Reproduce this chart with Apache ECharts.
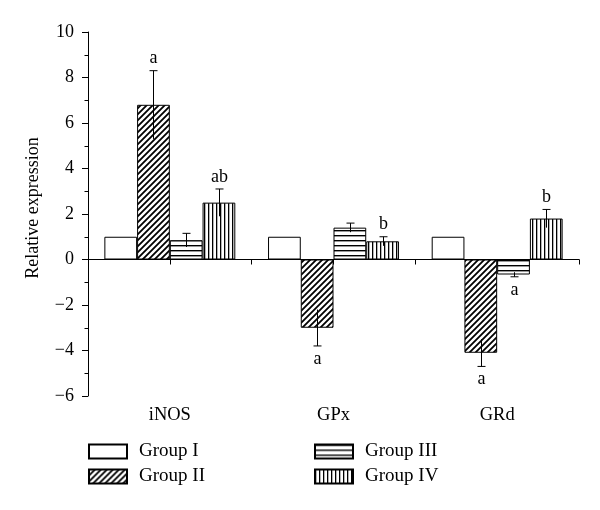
<!DOCTYPE html>
<html>
<head>
<meta charset="utf-8">
<script src="https://cdn.jsdelivr.net/npm/echarts@6/dist/echarts.min.js"></script>
<style>html,body{margin:0;padding:0;background:#fff}#c{width:600px;height:510px}</style>
</head>
<body>
<div id="c"></div>
<script>
const categories = ['iNOS', 'GPx', 'GRd'];
const groupNames = ['Group I', 'Group II', 'Group III', 'Group IV'];
const groupI = [1.0, 1.0, 1.0];
const groupII = [6.8, -3.0, -4.1];
const groupIII = [0.85, 1.4, -0.66];
const groupIV = [2.5, 0.8, 1.8];
const errI = [0, 0, 0];
const errII = [1.5, 0.8, 0.6];
const errIII = [0.3, 0.2, 0.1];
const errIV = [0.6, 0.2, 0.4];
const lettersI = ['', '', ''];
const lettersII = ['a', 'a', 'a'];
const lettersIII = ['', '', 'a'];
const lettersIV = ['ab', 'b', 'b'];
const yMin = -6, yMax = 10, yStep = 2;

const FONT = 'Liberation Serif';

function makePattern(kind) {
  const c = document.createElement('canvas');
  let w, h;
  if (kind === 'diag') { w = 6; h = 6; }
  else if (kind === 'horiz') { w = 4; h = 5; }
  else if (kind === 'vert') { w = 4; h = 4; }
  else { w = 4; h = 4; }
  c.width = w; c.height = h;
  const ctx = c.getContext('2d');
  ctx.fillStyle = '#fff';
  ctx.fillRect(0, 0, w, h);
  ctx.fillStyle = '#000';
  ctx.strokeStyle = '#000';
  if (kind === 'diag') {
    ctx.lineWidth = 1.8;
    ctx.beginPath();
    ctx.moveTo(-1, h + 1); ctx.lineTo(w + 1, -1);
    ctx.moveTo(-1, 1); ctx.lineTo(1, -1);
    ctx.moveTo(w - 1, h + 1); ctx.lineTo(w + 1, h - 1);
    ctx.stroke();
  } else if (kind === 'horiz') {
    ctx.fillRect(0, 0, w, 1.4);
  } else if (kind === 'vert') {
    ctx.fillRect(0, 0, 1.3, h);
  }
  return { image: c, repeat: 'repeat' };
}

const values = [groupI, groupII, groupIII, groupIV];
const errs = [errI, errII, errIII, errIV];
const letters = [lettersI, lettersII, lettersIII, lettersIV];
const fills = ['#fff', makePattern('diag'), makePattern('horiz'), makePattern('vert')];

const errItems = [];
const errLetters = [];
for (let g = 0; g < 4; g++) {
  for (let i = 0; i < categories.length; i++) {
    if (errs[g][i] > 0) {
      errItems.push([i, g, values[g][i], errs[g][i]]);
      errLetters.push(letters[g][i]);
    }
  }
}

const barSeries = groupNames.map((name, g) => ({
  name: name,
  type: 'bar',
  data: values[g],
  barGap: 0,
  barCategoryGap: '20%',
  itemStyle: { color: fills[g], borderColor: '#000', borderWidth: 1 },
  emphasis: { disabled: true },
  z: 2
}));

const errSeries = {
  type: 'custom',
  name: 'err',
  data: errItems,
  encode: { x: 0, y: 2 },
  z: 5,
  silent: true,
  renderItem: function (params, api) {
    const cat = api.value(0), g = api.value(1), v = api.value(2), e = api.value(3);
    const center = api.coord([cat, 0]);
    const bandW = api.size([1, 0])[0];
    const bw = bandW * 0.8 / 4;
    const x = Math.round(center[0] - bandW * 0.4 + bw * (g + 0.5)) + 0.5;
    const yHi = api.coord([cat, v + e])[1];
    const yLo = api.coord([cat, v - e])[1];
    const outerY = v >= 0 ? yHi : yLo;
    const letter = errLetters[params.dataIndex];
    const children = [
      { type: 'line', shape: { x1: x, y1: yHi, x2: x, y2: yLo }, style: { stroke: '#000', lineWidth: 1 } },
      { type: 'line', shape: { x1: x - 4, y1: outerY, x2: x + 4, y2: outerY }, style: { stroke: '#000', lineWidth: 1 } }
    ];
    if (letter) {
      children.push({
        type: 'text',
        style: {
          text: letter, x: x, y: v >= 0 ? outerY - 12 : outerY + 13,
          align: 'center', verticalAlign: 'middle',
          fontSize: 18, fontFamily: FONT, fill: '#000'
        }
      });
    }
    return { type: 'group', children: children };
  }
};

const legendText = { fontFamily: FONT, fontSize: 19, color: '#000', padding: [0, 0, 0, 7], lineHeight: 18 };

const chart = echarts.init(document.getElementById('c'), null, { renderer: 'canvas' });
chart.setOption({
  animation: false,
  backgroundColor: '#fff',
  grid: { left: 88, right: 21, top: 32, bottom: 114, containLabel: false },
  legend: [
    { data: ['Group I', 'Group II'], orient: 'vertical', left: 88, top: 442, padding: 0, icon: 'rect',
      itemWidth: 38, itemHeight: 14, itemGap: 6, textStyle: legendText, selectedMode: false },
    { data: ['Group III', 'Group IV'], orient: 'vertical', left: 314, top: 442, padding: 0, icon: 'rect',
      itemWidth: 38, itemHeight: 14, itemGap: 6, textStyle: legendText, selectedMode: false }
  ],
  xAxis: [
    {
      type: 'category', data: categories, position: 'bottom',
      axisLine: { show: false, onZero: false }, axisTick: { show: false },
      axisLabel: { fontFamily: FONT, fontSize: 18.5, color: '#000', margin: 10 }
    },
    {
      type: 'category', data: ['', '', '', '', '', ''], position: 'top',
      axisLine: { show: true, onZero: true, lineStyle: { color: '#000', width: 1 } },
      axisTick: { show: true, inside: true, length: 5, lineStyle: { color: '#000' } },
      axisLabel: { show: false }
    }
  ],
  yAxis: {
    type: 'value', min: yMin, max: yMax, interval: yStep,
    name: 'Relative expression', nameLocation: 'middle', nameGap: 46,
    nameTextStyle: { fontFamily: FONT, fontSize: 18, color: '#000', padding: [0, 0, 0, 12] },
    axisLine: { show: true, lineStyle: { color: '#000', width: 1 } },
    axisTick: { show: true, length: 6, lineStyle: { color: '#000' } },
    minorTick: { show: true, splitNumber: 2, length: 3.5, lineStyle: { color: '#000' } },
    splitLine: { show: false },
    axisLabel: {
      fontFamily: FONT, fontSize: 18, color: '#000', margin: 14,
      formatter: v => v < 0 ? '\u2212' + Math.abs(v) : String(v)
    }
  },
  series: barSeries.concat([errSeries])
});
</script>
</body>
</html>
